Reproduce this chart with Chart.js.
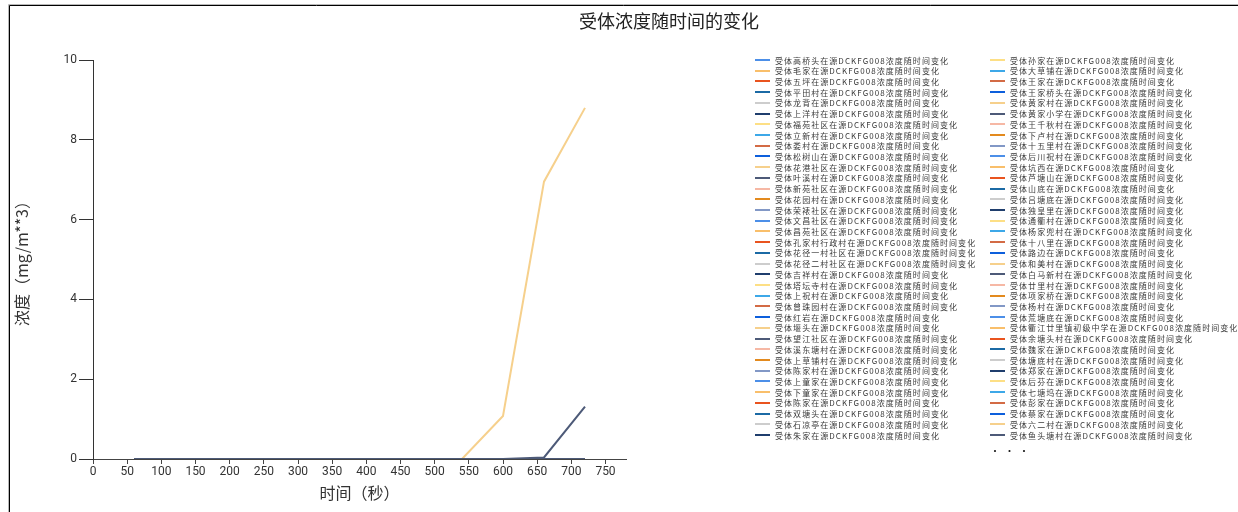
<!DOCTYPE html>
<html>
<head>
<meta charset="utf-8">
<script src="https://cdn.jsdelivr.net/npm/chart.js@4.4.1/dist/chart.umd.min.js"></script>
<style>
  html, body { margin: 0; padding: 0; background: #ffffff; }
  #wrap { width: 1238px; height: 512px; }
</style>
</head>
<body>
<div id="wrap"><canvas id="c" width="1238" height="512"></canvas></div>
<script>
// ---- data ----
const times = [60, 120, 180, 240, 300, 360, 420, 480, 540, 600, 660, 720];
const flatZero = [0, 0, 0, 0, 0, 0, 0, 0, 0, 0, 0, 0];
const liuErCun = [0, 0, 0, 0, 0, 0, 0, 0, 0, 1.08, 6.95, 8.80];
const yuTouTangCun = [0, 0, 0, 0, 0, 0, 0, 0, 0, 0, 0.04, 1.31];
const xTickValues = [0, 50, 100, 150, 200, 250, 300, 350, 400, 450, 500, 550, 600, 650, 700, 750];
const yTickValues = [0, 2, 4, 6, 8, 10];
const receptors = [
  '高桥头', '毛家', '五坪', '平田村', '龙背', '上洋村', '福苑社区', '立新村', '娄村',
  '松树山', '花港社区', '叶溪村', '新苑社区', '花园村', '荣裱社区', '文昌社区', '昌苑社区', '孔家村行政村',
  '花径一村社区', '花径二村社区', '吉祥村', '塔坛寺村', '上祝村', '曾珠园村', '红岩', '堰头', '望江社区',
  '溪东塘村', '上草铺村', '陈家村', '上童家', '下童家', '陈家', '双塘头', '石凉亭', '朱家',
  '孙家', '大草铺', '王家', '王家桥头', '黄家村', '黄家小学', '王千秋村', '下卢村', '十五里村',
  '后川祝村', '坑西', '芦塘山', '山底', '吕塘底', '独皇里', '通衢村', '杨家兜村', '十八里',
  '路边', '和美村', '白马新村', '廿里村', '项家桥', '杨村', '荒塘底', '衢江廿里镇初级中学', '余塘头村',
  '魏家', '塘底村', '郑家', '后芬', '七塘坞', '彭家', '蔡家', '六二村', '鱼头塘村'
];
const specialSeries = { '六二村': liuErCun, '鱼头塘村': yuTouTangCun };
const palette = [
  '#4c8fe8', '#f9bf6b', '#e9541f', '#1b6aa5', '#cdcdcd',
  '#1f3e6d', '#fddf85', '#3da8e8', '#d36b45', '#0d5fdc',
  '#f6d08c', '#4d5a78', '#f6b8a5', '#e38a1e', '#8298c6'
];
const titleText = '受体浓度随时间的变化';
const xTitle = '时间（秒）';
const yTitle = '浓度（mg/m**3）';

// ---- build datasets ----
const N = receptors.length;
const datasets = receptors.map((name, i) => {
  const vals = specialSeries[name] || flatZero;
  const ci = i % palette.length;
  // slate / navy lines drawn on top so the stacked zero line reads dark grey
  const drawOrder = ci === 11 ? 0 : (ci === 5 ? 1 : 2);
  return {
    label: '受体' + name + '在源DCKFG008浓度随时间变化',
    data: times.map((t, k) => ({ x: t, y: vals[k] })),
    borderColor: palette[ci],
    backgroundColor: palette[ci],
    borderWidth: 2,
    pointRadius: 0,
    fill: false,
    tension: 0,
    order: drawOrder
  };
});

const cjk = '"Noto Sans CJK SC", "Noto Sans", sans-serif';

const decorPlugin = {
  id: 'decor',
  beforeDraw(chart) {
    const ctx = chart.ctx;
    ctx.save();
    ctx.fillStyle = '#ffffff';
    ctx.fillRect(0, 0, chart.width, chart.height);
    // frame
    ctx.strokeStyle = '#b8b8b8';
    ctx.lineWidth = 1;
    ctx.beginPath();
    ctx.moveTo(8.5, chart.height); ctx.lineTo(8.5, 4.5); ctx.lineTo(chart.width, 4.5);
    ctx.stroke();
    ctx.strokeStyle = '#000000';
    ctx.beginPath();
    ctx.moveTo(9.5, chart.height); ctx.lineTo(9.5, 5.5); ctx.lineTo(chart.width, 5.5);
    ctx.stroke();
    // title
    ctx.fillStyle = '#222222';
    ctx.font = '18px ' + cjk;
    ctx.textAlign = 'center';
    ctx.textBaseline = 'middle';
    ctx.fillText(titleText, 669, 21);
    ctx.restore();
  },
  afterDraw(chart) {
    const ctx = chart.ctx;
    const ds = chart.data.datasets;
    const perCol = 36;
    const colX = [755, 990];
    const top = 60;
    const step = 10.714;
    ctx.save();
    ctx.font = '8px ' + cjk;
    if ('letterSpacing' in ctx) ctx.letterSpacing = '1.05px';
    ctx.textBaseline = 'middle';
    ctx.textAlign = 'left';
    ds.forEach((d, i) => {
      const col = Math.floor(i / perCol);
      const row = i % perCol;
      const x = colX[col];
      const y = top + row * step;
      ctx.strokeStyle = d.borderColor;
      ctx.lineWidth = 2;
      ctx.beginPath();
      ctx.moveTo(x, Math.round(y));
      ctx.lineTo(x + 15, Math.round(y));
      ctx.stroke();
      ctx.fillStyle = '#3a3a3a';
      ctx.fillText(d.label, x + 20, y + 0.5);
    });
    if ('letterSpacing' in ctx) ctx.letterSpacing = '0px';
    ctx.fillStyle = '#222222';
    ctx.font = '10px ' + cjk;
    ctx.fillText('•  •  •', 990, 451);
    ctx.restore();
  }
};

new Chart(document.getElementById('c'), {
  type: 'line',
  data: { datasets },
  plugins: [decorPlugin],
  options: {
    responsive: false,
    animation: false,
    devicePixelRatio: 1,
    layout: { padding: { left: 8, right: 612, top: 60, bottom: 5 } },
    plugins: {
      legend: { display: false },
      title: { display: false },
      tooltip: { enabled: false }
    },
    elements: { line: { borderCapStyle: 'butt' } },
    scales: {
      x: {
        type: 'linear',
        min: 0,
        max: 780,
        afterBuildTicks: (s) => { s.ticks = xTickValues.map(v => ({ value: v })); },
        afterFit: (s) => { s.height = 48; },
        ticks: {
          color: '#333333',
          font: { family: 'Roboto, "Liberation Sans", sans-serif', size: 12 },
          padding: 1,
          maxRotation: 0,
          autoSkip: false,
          includeBounds: false
        },
        grid: { display: true, drawOnChartArea: false, drawTicks: true, tickLength: 5, color: '#444444', lineWidth: 1 },
        border: { display: true, color: '#444444', width: 1 },
        title: {
          display: true,
          text: xTitle,
          color: '#333333',
          font: { family: cjk, size: 16 },
          padding: { top: 2, bottom: 4 }
        }
      },
      y: {
        type: 'linear',
        min: 0,
        max: 10,
        afterBuildTicks: (s) => { s.ticks = yTickValues.map(v => ({ value: v })); },
        afterFit: (s) => { s.width = 85; },
        ticks: {
          color: '#333333',
          font: { family: 'Roboto, "Liberation Sans", sans-serif', size: 12 },
          padding: 2
        },
        grid: { display: true, drawOnChartArea: false, drawTicks: true, tickLength: 14, color: '#333333', lineWidth: 1 },
        border: { display: true, color: '#333333', width: 1 },
        title: {
          display: true,
          text: yTitle,
          color: '#333333',
          font: { family: cjk, size: 16 },
          padding: { top: 4, bottom: 4 }
        }
      }
    }
  }
});
</script>
</body>
</html>
